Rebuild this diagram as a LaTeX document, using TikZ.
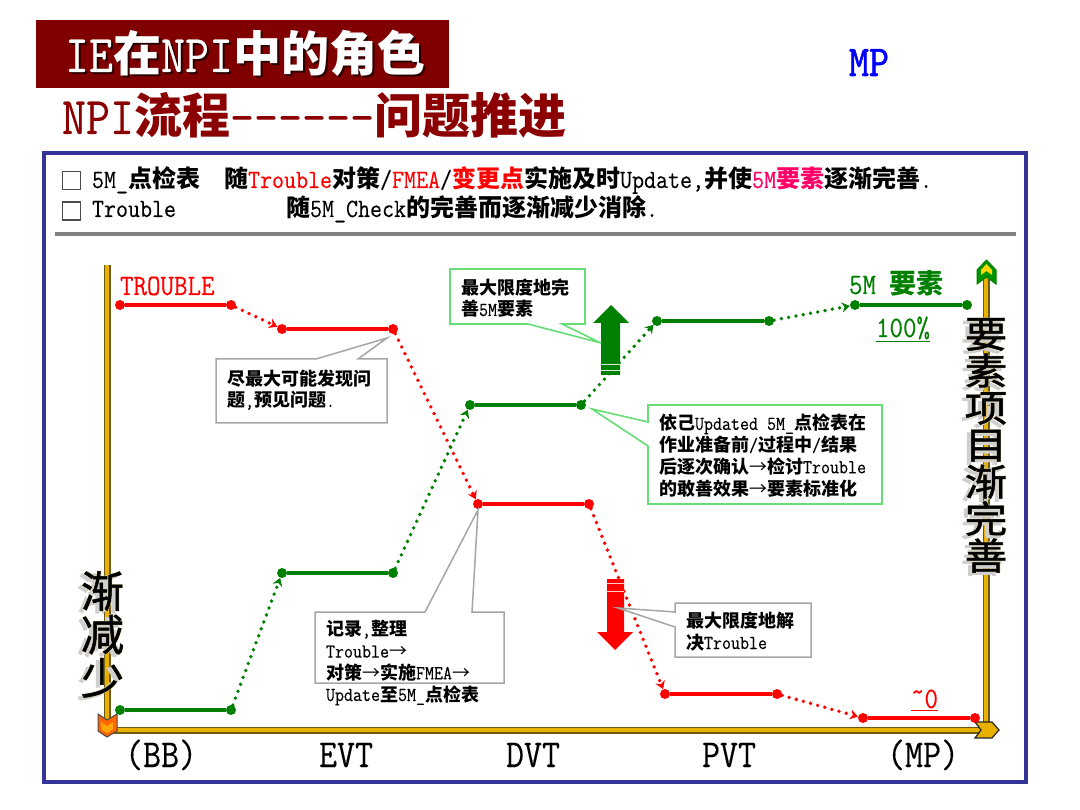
\documentclass[tikz,border=0pt]{standalone}
\usepackage{fontspec}
\usetikzlibrary{arrows.meta}
\setmainfont{Noto Sans CJK SC}
\newfontfamily\enf[Scale=1.1,FakeStretch=0.883,FakeBold=0.25]{Latin Modern Mono}
\newfontfamily\enb[Scale=1.1,FakeStretch=0.883,FakeBold=1.2]{Latin Modern Mono}
\newfontfamily\haloa[FakeBold=3.5]{Noto Sans CJK SC}
\newfontfamily\halob[FakeBold=2.5]{Noto Sans CJK SC}
\newfontfamily\inkf[FakeBold=1.2]{Noto Sans CJK SC}
\newfontfamily\haloaw[FakeBold=3.5,FakeStretch=1.15]{Noto Sans CJK SC}
\newfontfamily\halobw[FakeBold=2.5,FakeStretch=1.15]{Noto Sans CJK SC}
\newfontfamily\inkfw[FakeBold=1.2,FakeStretch=1.15]{Noto Sans CJK SC}
\newcommand{\en}[1]{{\enf\mdseries #1}}
\newcommand{\arw}{{\mdseries →}}
\definecolor{framec}{HTML}{333399}
\definecolor{maroonc}{HTML}{800000}
\definecolor{subc}{HTML}{8B0000}
\definecolor{goldc}{HTML}{E8B000}
\definecolor{goldd}{HTML}{6B5A10}
\definecolor{greenl}{HTML}{008000}
\definecolor{calg}{HTML}{66DD77}
\definecolor{calk}{HTML}{A6A6A6}
\definecolor{pinkc}{HTML}{FF0066}
\definecolor{haloc}{HTML}{DCCFA8}
\definecolor{shadc}{HTML}{CFCFCF}
\tikzset{
 txt/.style={inner sep=0pt,outer sep=0pt,anchor=base west,text depth=0pt},
 note/.style={txt,align=left,font=\bfseries\fontsize{18}{21.7}\selectfont},
 head/.style={txt,font=\bfseries\fontsize{24}{24}\selectfont},
 axlab/.style={txt,font=\fontsize{36}{36}\selectfont},
 dotr/.style={circle,fill=red,inner sep=0pt,minimum size=10pt},
 dotg/.style={circle,fill=greenl,inner sep=0pt,minimum size=10pt},
 solr/.style={draw=red,line width=3.2pt},
 solg/.style={draw=greenl,line width=3.2pt},
 dashr/.style={draw=red,line width=3.8pt,line cap=round,dash pattern=on 0pt off 7.4pt,-{Stealth[length=8pt,width=10pt,red]}},
 dashg/.style={draw=greenl,line width=3.8pt,line cap=round,dash pattern=on 0pt off 7.4pt,-{Stealth[length=8pt,width=10pt,greenl]}},
 axisout/.style={draw=goldd,line width=7pt},
 axisin/.style={draw=goldc,line width=4.6pt},
 calloutg/.style={draw=calg,fill=white,line width=1.6pt,line join=miter},
 calloutk/.style={draw=calk,fill=white,line width=1.5pt,line join=miter},
 vstack/.style={inner sep=0pt,align=center,anchor=north},
 ckbox/.style={draw=black!70,line width=1.4pt,fill=white,minimum size=18pt,inner sep=0pt},
}
\begin{document}
\begin{tikzpicture}[x=1pt,y=-1pt]
\useasboundingbox (0,0) rectangle (1080,810);
\fill[white] (0,0) rectangle (1080,810);

% title
\fill[maroonc] (36,20) rectangle (449,88);
\node[txt,text=black!65!maroonc,font=\bfseries\fontsize{48}{48}\selectfont] (titleshadow) at (67,74) {\en{IE}在\en{NPI}中的角色};
\node[txt,text=white,font=\bfseries\fontsize{48}{48}\selectfont] (title) at (65,72) {\en{IE}在\en{NPI}中的角色};
\node[txt,text=subc,font=\bfseries\fontsize{48}{48}\selectfont] (subtitle) at (62,134) {\en{NPI}流程\en{------}问题推进};
\node[txt,text=blue,font=\fontsize{40}{40}\selectfont] (mp) at (849,76) {{\enb MP}};

% frame
\draw[framec,line width=4pt] (44,153) rectangle (1026,782);
\draw[black!50,line width=4pt] (55,234) -- (1016,234);

% heading lines
\node[ckbox] (c1) at (71.5,180.5) {};
\node[ckbox] (c2) at (71.5,211) {};
\node[head] (h1) at (92,188) {\en{5M\_}点检表\hspace*{24pt}随\textcolor{red}{\en{Trouble}}对策\en{/}\textcolor{red}{\en{FMEA}}\en{/}\textcolor{red}{变更点}实施及时\en{Update,}并使\textcolor{pinkc}{\en{5M}要素}逐渐完善\en{.}};
\node[head] (h2) at (92,217) {\en{Trouble}\hspace*{110pt}随\en{5M\_Check}的完善而逐渐减少消除\en{.}};

% axes
\coordinate (ax0) at (107,730);
\coordinate (axt) at (107,265);
\coordinate (axr) at (985,730);
\coordinate (ayb) at (986,730);
\coordinate (ayt) at (986,275);
\draw[axisout] (axt) -- (ax0) -- (axr);
\draw[axisin] (axt) -- (ax0) -- (axr);
\draw[axisout] (ayb) -- (ayt);
\draw[axisin] (ayb) -- (ayt);
\fill[goldc,draw=black!85,line width=1.2pt] (975,722) -- (992,722) -- (999,730) -- (992,738) -- (975,738) -- (981,730) -- cycle;
\fill[orange!80!red,draw=black!70,line width=1pt] (98,714) -- (107,720) -- (117,714) -- (117,731) -- (107,737) -- (98,731) -- cycle;
\fill[orange!70!yellow] (101,722) -- (107,726) -- (113,722) -- (113,729) -- (107,733) -- (101,729) -- cycle;
\fill[greenl!85!green,draw=greenl,line width=1pt] (977,270) -- (986.5,260) -- (996,270) -- (996,284) -- (986.5,277) -- (977,284) -- cycle;
\fill[yellow!75!orange] (981,270) -- (986.5,264) -- (992,270) -- (992,275) -- (986.5,271) -- (981,275) -- cycle;

% axis labels
\node[axlab] (bb) at (125,767) {\en{(BB)}};
\node[axlab] (evt) at (319,767) {\en{EVT}};
\node[axlab] (dvt) at (506,767) {\en{DVT}};
\node[axlab] (pvt) at (702,767) {\en{PVT}};
\node[axlab] (mpx) at (887,767) {\en{(MP)}};

% red series
\node[dotr] (r1) at (120,305) {};
\node[dotr] (r2) at (231,305) {};
\node[dotr] (r3) at (282,329) {};
\node[dotr] (r4) at (393,329) {};
\node[dotr] (r5) at (478,504) {};
\node[dotr] (r6) at (589,504) {};
\node[dotr] (r7) at (665,694) {};
\node[dotr] (r8) at (777,694) {};
\node[dotr] (r9) at (863,718) {};
\node[dotr] (r10) at (975,718) {};
\draw[solr] (r1) -- (r2);
\draw[dashr] (r2) -- (r3);
\draw[solr] (r3) -- (r4);
\draw[dashr] (r4) -- (r5);
\draw[solr] (r5) -- (r6);
\draw[dashr] (r6) -- (r7);
\draw[solr] (r7) -- (r8);
\draw[dashr] (r8) -- (r9);
\draw[solr] (r9) -- (r10);

% green series
\node[dotg] (g1) at (120,710) {};
\node[dotg] (g2) at (231,710) {};
\node[dotg] (g3) at (282,573) {};
\node[dotg] (g4) at (393,573) {};
\node[dotg] (g5) at (470,405) {};
\node[dotg] (g6) at (581,405) {};
\node[dotg] (g7) at (657,321) {};
\node[dotg] (g8) at (769,321) {};
\node[dotg] (g9) at (855,305) {};
\node[dotg] (g10) at (967,305) {};
\draw[solg] (g1) -- (g2);
\draw[dashg] (g2) -- (g3);
\draw[solg] (g3) -- (g4);
\draw[dashg] (g4) -- (g5);
\draw[solg] (g5) -- (g6);
\draw[dashg] (g6) -- (g7);
\draw[solg] (g7) -- (g8);
\draw[dashg] (g8) -- (g9);
\draw[solg] (g9) -- (g10);

% series labels
\node[txt,text=red,font=\fontsize{27}{27}\selectfont] (ltrouble) at (120,295) {\en{TROUBLE}};
\node[txt,text=greenl,font=\bfseries\fontsize{27}{27}\selectfont] (l5m) at (849,294) {\en{5M }要素};
\node[txt,text=greenl,font=\fontsize{27}{27}\selectfont] (l100) at (876,337) {\underline{\en{100\%}}};
\node[txt,text=red,font=\fontsize{27}{27}\selectfont] (l0) at (911,708) {\underline{\en{\raisebox{7pt}{\textasciitilde}0}}};

% big arrows
\fill[greenl] (611,305) -- (629,323) -- (620,323) -- (620,375) -- (601,375) -- (601,323) -- (593,323) -- cycle;
\draw[white!85!greenl,line width=0.9pt] (601,364) -- (620,364);
\draw[white!85!greenl,line width=0.9pt] (601,370) -- (620,370);
\fill[red] (615,650) -- (633,632) -- (624,632) -- (624,579) -- (607,579) -- (607,632) -- (597,632) -- cycle;
\draw[white!80!red,line width=0.9pt] (607,583) -- (624,583);
\draw[white!80!red,line width=0.9pt] (607,591) -- (624,591);

% callouts
\coordinate (ta) at (387,338);
\draw[calloutk] (216,359) -- (316,359) -- (ta) -- (358,359) -- (387,359) -- (387,423) -- (216,423) -- cycle;
\node[note] (na) at (227,407) {尽最大可能发现问\\题\en{,}预见问题\en{.}};

\coordinate (tb) at (601,343);
\draw[calloutg] (450,269) -- (585,269) -- (585,324) -- (562,324) -- (tb) -- (528,324) -- (450,324) -- cycle;
\node[note] (nb) at (461,316) {最大限度地完\\善\en{5M}要素};

\coordinate (tc) at (592,409);
\draw[calloutg] (648,405) -- (882,405) -- (882,504) -- (648,504) -- (648,446) -- (tc) -- (648,422) -- cycle;
\node[note] (nc) at (659,495) {依己\en{Updated 5M\_}点检表在\\作业准备前\en{/}过程中\en{/}结果\\后逐次确认\arw 检讨\en{Trouble}\\的敢善效果\arw 要素标准化};

\coordinate (td) at (478,510);
\draw[calloutk] (315,612) -- (425,612) -- (td) -- (472,612) -- (504,612) -- (504,683) -- (315,683) -- cycle;
\node[note] (nd) at (326,701) {记录\en{,}整理\\\en{Trouble}\arw\\对策\arw 实施\en{FMEA}\arw\\\en{Update}至\en{5M\_}点检表};

\coordinate (te) at (618,608);
\draw[calloutk] (675,603) -- (811,603) -- (811,657) -- (675,657) -- (675,627) -- (te) -- (675,612) -- cycle;
\node[note] (ne) at (686,649) {最大限度地解\\决\en{Trouble}};

% vertical shadowed labels
\node[vstack,text=shadc,font=\halob\fontsize{43}{43.5}\selectfont] (vls) at (98.5,573.5) {渐\\减\\少};
\node[vstack,text=haloc,font=\haloa\fontsize{43}{43.5}\selectfont] (vlh) at (102.5,571) {渐\\减\\少};
\node[vstack,text=black,font=\inkf\fontsize{43}{43.5}\selectfont] (vl) at (102.5,571) {渐\\减\\少};
\node[vstack,text=shadc,font=\halobw\fontsize{37}{37}\selectfont] (vrs) at (982,321) {要\\素\\项\\目\\渐\\完\\善};
\node[vstack,text=haloc,font=\haloaw\fontsize{37}{37}\selectfont] (vrh) at (986,318) {要\\素\\项\\目\\渐\\完\\善};
\node[vstack,text=black,font=\inkfw\fontsize{37}{37}\selectfont] (vr) at (986,318) {要\\素\\项\\目\\渐\\完\\善};
\end{tikzpicture}
\end{document}
